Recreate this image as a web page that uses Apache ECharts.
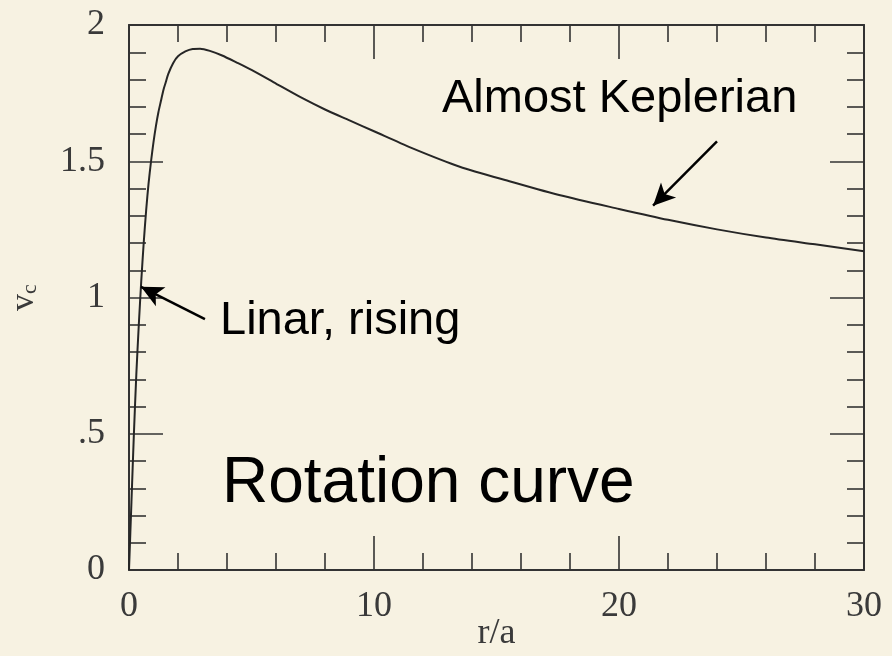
<!DOCTYPE html>
<html>
<head>
<meta charset="utf-8">
<script src="https://cdn.jsdelivr.net/npm/echarts@6/dist/echarts.min.js"></script>
<style>
html,body{margin:0;padding:0;background:#f7f2e2;}
#chart{width:892px;height:656px;}
</style>
</head>
<body>
<div id="chart"></div>
<script>
// r/a values along the curve
var radius = [0, 0.1, 0.2, 0.3, 0.4, 0.5, 0.6, 0.7, 0.8, 0.9, 1.0, 1.1, 1.2, 1.3, 1.4, 1.5, 1.6, 1.8, 2.0, 2.3, 2.6, 2.9, 3.3, 3.8, 4.4, 5.0, 6.0, 7.0, 8.0, 9.0, 10.0, 11.5, 13.5, 15.6, 17.6, 20.0, 22.0, 24.0, 26.0, 28.0, 30.0];
// circular velocity v_c
var velocity = [0, 0.25, 0.5, 0.72, 0.9, 1.06, 1.2, 1.32, 1.42, 1.5, 1.57, 1.63, 1.68, 1.72, 1.76, 1.79, 1.82, 1.86, 1.885, 1.903, 1.912, 1.913, 1.905, 1.888, 1.862, 1.835, 1.785, 1.735, 1.69, 1.65, 1.61, 1.55, 1.48, 1.425, 1.375, 1.325, 1.285, 1.25, 1.22, 1.195, 1.17];
// tick labels
var xTickLabels = {0: '0', 10: '10', 20: '20', 30: '30'};
var yTickLabels = {0: '0', 0.5: '.5', 1: '1', 1.5: '1.5', 2: '2'};
// annotation arrows (from, to) in data units
var arrowKepler = [[24.0, 1.573], [21.39, 1.337]];
var arrowLinear = [[3.1, 0.921], [0.49, 1.039]];

var chart = echarts.init(document.getElementById('chart'), null, {renderer: 'canvas'});
var tickFont = {fontFamily: 'Liberation Serif', fontSize: 36, color: '#3a3a3a'};
var axisLineStyle = {color: '#333', width: 2};
var tickStyle = {color: '#333', width: 1.6};

function xAxisDef(pos, showLabel) {
  return {
    type: 'value', position: pos, min: 0, max: 30, interval: 10,
    axisLine: {show: true, onZero: false, lineStyle: axisLineStyle},
    axisTick: {show: true, inside: true, length: 34, lineStyle: tickStyle},
    minorTick: {show: true, splitNumber: 5, length: 17, lineStyle: tickStyle},
    splitLine: {show: false},
    axisLabel: showLabel ? Object.assign({show: true, margin: 19, formatter: function (v) { return xTickLabels[v] !== undefined ? xTickLabels[v] : ''; }}, tickFont) : {show: false},
    name: showLabel ? 'r/a' : '',
    nameLocation: 'middle', nameGap: 46, nameMoveOverlap: false,
    nameTextStyle: {fontFamily: 'Liberation Serif', fontSize: 36, color: '#3a3a3a'}
  };
}
function yAxisDef(pos, showLabel) {
  return {
    type: 'value', position: pos, min: 0, max: 2, interval: 0.5,
    axisLine: {show: true, onZero: false, lineStyle: axisLineStyle},
    axisTick: {show: true, inside: true, length: 34, lineStyle: tickStyle},
    minorTick: {show: true, splitNumber: 5, length: 17, lineStyle: tickStyle},
    splitLine: {show: false},
    axisLabel: showLabel ? Object.assign({show: true, margin: 24, formatter: function (v) { return yTickLabels[v] !== undefined ? yTickLabels[v] : ''; }}, tickFont) : {show: false},
    name: showLabel ? '{v|v}{c|c}' : '',
    nameLocation: 'middle', nameGap: 88, nameRotate: 90, nameMoveOverlap: false,
    nameTextStyle: {rich: {
      v: {fontFamily: 'Liberation Serif', fontSize: 34, color: '#3a3a3a'},
      c: {fontFamily: 'Liberation Serif', fontSize: 22, color: '#3a3a3a', verticalAlign: 'bottom'}
    }}
  };
}

var pts = radius.map(function (r, i) { return [r, velocity[i]]; });

chart.setOption({
  backgroundColor: '#f7f2e2',
  animation: false,
  grid: {left: 129, right: 28, top: 25, bottom: 86, containLabel: false, outerBoundsMode: 'none'},
  xAxis: [xAxisDef('bottom', true), xAxisDef('top', false)],
  yAxis: [yAxisDef('left', true), yAxisDef('right', false)],
  series: [{
    type: 'line', xAxisIndex: 0, yAxisIndex: 0,
    data: pts, smooth: 0.25, symbol: 'none',
    lineStyle: {color: '#262626', width: 2},
    markLine: {
      silent: true,
      symbol: ['none', 'arrow'],
      symbolSize: [16, 22],
      label: {show: false},
      lineStyle: {color: '#000', width: 2.5, type: 'solid'},
      data: [
        [{coord: arrowKepler[0]}, {coord: arrowKepler[1]}],
        [{coord: arrowLinear[0]}, {coord: arrowLinear[1]}]
      ]
    }
  }],
  graphic: [
    {type: 'text', style: {text: 'Almost Keplerian', x: 442, y: 99, fill: '#000', font: '47px "Liberation Sans"', textAlign: 'left', textVerticalAlign: 'middle'}},
    {type: 'text', style: {text: 'Linar, rising', x: 220, y: 321, fill: '#000', font: '47px "Liberation Sans"', textAlign: 'left', textVerticalAlign: 'middle'}},
    {type: 'text', style: {text: 'Rotation curve', x: 222, y: 484, fill: '#000', font: '64px "Liberation Sans"', textAlign: 'left', textVerticalAlign: 'middle'}}
  ]
});
</script>
</body>
</html>
